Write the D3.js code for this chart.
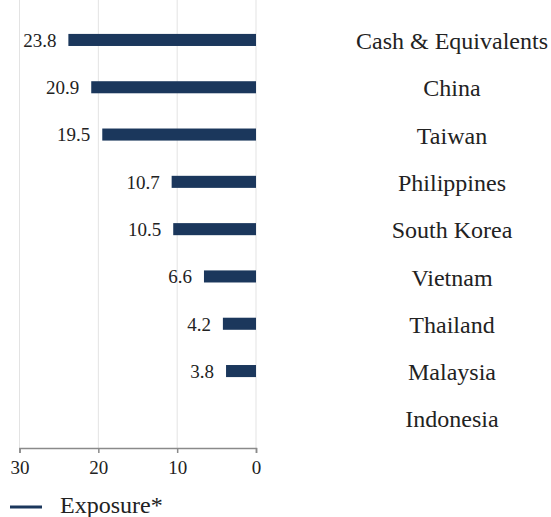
<!DOCTYPE html>
<html>
<head>
<meta charset="utf-8">
<script src="https://cdn.jsdelivr.net/npm/d3@7"></script>
<style>
  body { margin: 0; background: #fff; }
  svg { display: block; font-family: "Liberation Serif", "Times New Roman", serif; }
</style>
</head>
<body>
<svg id="chart" width="551" height="517"></svg>
<script>
const categories = ["Cash & Equivalents", "China", "Taiwan", "Philippines", "South Korea", "Vietnam", "Thailand", "Malaysia", "Indonesia"]
const exposure = [23.8, 20.9, 19.5, 10.7, 10.5, 6.6, 4.2, 3.8, null]
const xTicks = [30, 20, 10, 0]
const seriesName = "Exposure*"

const barColor = "#1b375c"
const svg = d3.select("#chart")

// reversed axis: 30 on the left, 0 on the right
const x = d3.scaleLinear()
  .domain([30, 0])
  .range([19.5, 256])

const y = d3.scaleBand()
  .domain(categories)
  .range([16.3, 442])
  .paddingInner(0.745)
  .paddingOuter(0.3725)

const axisY = 448

// gridlines
svg.append("g")
  .selectAll("line")
  .data(xTicks)
  .enter()
  .append("line")
    .attr("x1", d => x(d))
    .attr("x2", d => x(d))
    .attr("y1", 0)
    .attr("y2", axisY)
    .attr("stroke", "#e3e3e3")
    .attr("stroke-width", 1)

// bottom axis
const axis = svg.append("g")
  .attr("transform", "translate(0," + axisY + ")")
  .call(d3.axisBottom(x).tickValues(xTicks).tickSize(5).tickPadding(8))
axis.select(".domain").attr("stroke", "#8a8a8a").attr("stroke-width", 1.5)
axis.selectAll(".tick line").attr("stroke", "#8a8a8a").attr("stroke-width", 1.5)
axis.selectAll(".tick text")
  .attr("font-family", "Liberation Serif, serif")
  .attr("font-size", 19)
  .attr("fill", "#222")

const rows = d3.zip(categories, exposure).filter(d => d[1] != null)

// bars
svg.append("g")
  .selectAll("rect")
  .data(rows)
  .enter()
  .append("rect")
    .attr("x", d => x(d[1]))
    .attr("y", d => y(d[0]))
    .attr("width", d => x(0) - x(d[1]))
    .attr("height", y.bandwidth())
    .attr("fill", barColor)

// value labels
svg.append("g")
  .selectAll("text")
  .data(rows)
  .enter()
  .append("text")
    .attr("x", d => x(d[1]) - 12)
    .attr("y", d => y(d[0]) + y.bandwidth() / 2)
    .attr("dy", "0.36em")
    .attr("text-anchor", "end")
    .attr("font-size", 19)
    .attr("fill", "#222")
    .text(d => d[1].toFixed(1))

// category labels on the right
svg.append("g")
  .selectAll("text")
  .data(categories)
  .enter()
  .append("text")
    .attr("x", 452)
    .attr("y", d => y(d) + y.bandwidth() / 2)
    .attr("dy", "0.38em")
    .attr("text-anchor", "middle")
    .attr("font-size", 24)
    .attr("fill", "#222")
    .text(d => d)

// legend
const legend = svg.append("g").attr("transform", "translate(10,507)")
legend.append("line")
  .attr("x1", 0).attr("x2", 32)
  .attr("y1", 0).attr("y2", 0)
  .attr("stroke", barColor)
  .attr("stroke-width", 3)
legend.append("text")
  .attr("x", 50)
  .attr("y", -3)
  .attr("dy", "0.36em")
  .attr("font-size", 24)
  .attr("fill", "#222")
  .text(seriesName)
</script>
</body>
</html>
